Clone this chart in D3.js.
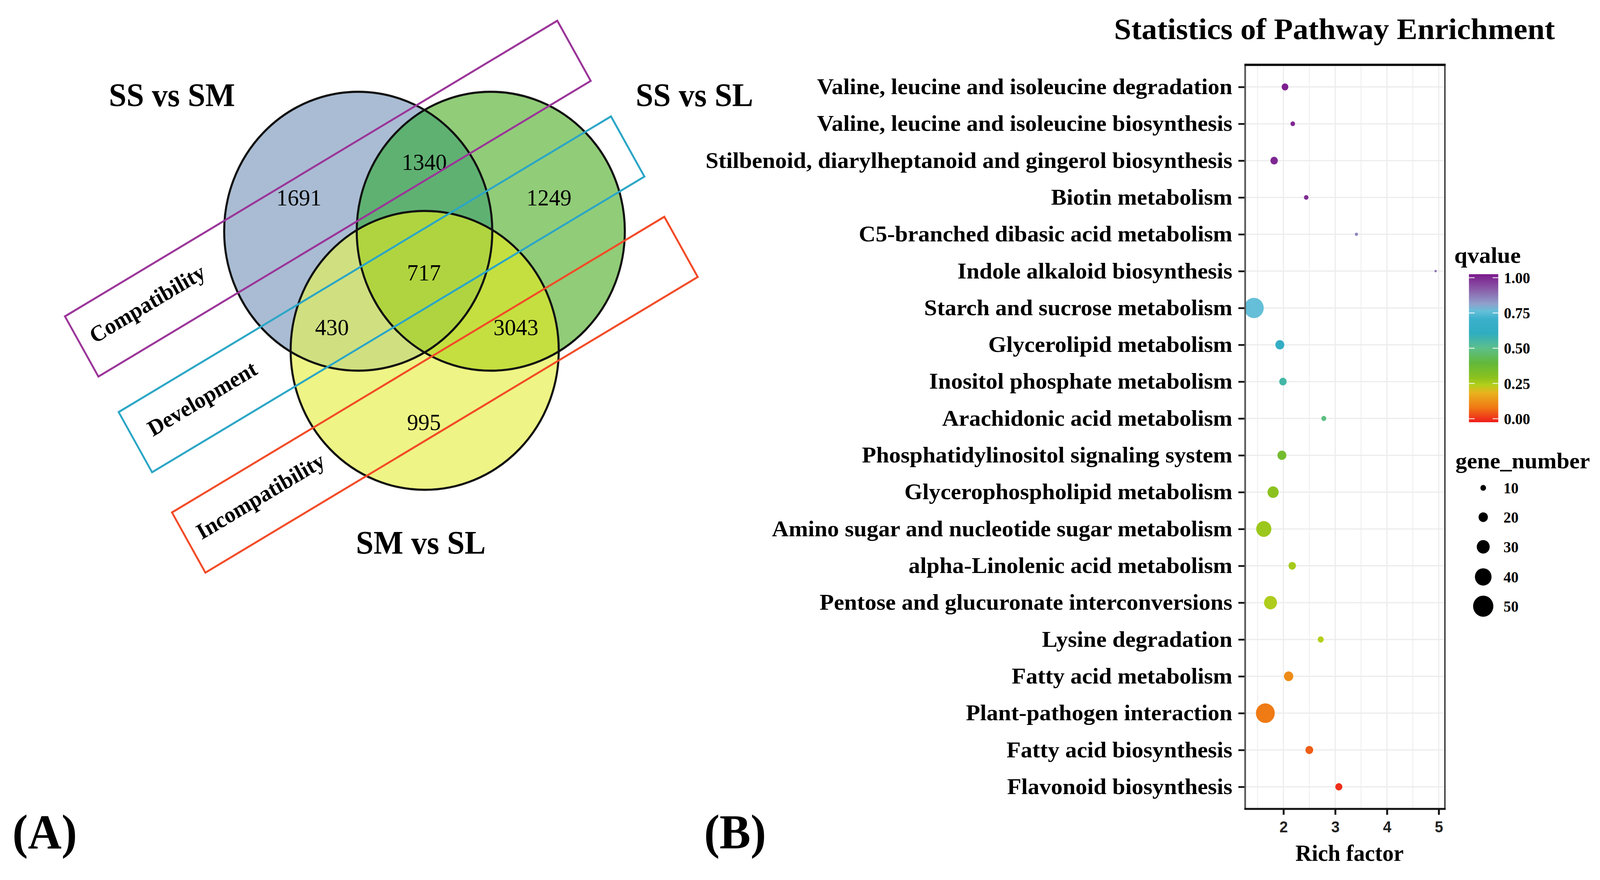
<!DOCTYPE html>
<html>
<head>
<meta charset="utf-8">
<script src="https://cdn.jsdelivr.net/npm/d3@7"></script>
<style>
  html, body { margin: 0; padding: 0; background: #fff; overflow: hidden; }
  #fig { display: block; width: 100vw; height: 100vh; }
</style>
</head>
<body>
<svg id="fig" viewBox="0 0 4261 2253" preserveAspectRatio="none"></svg>
<script>
// ---------- data: Venn (A) ----------
var setNames = ["SS vs SM", "SS vs SL", "SM vs SL"];
var regionKeys = ["A", "B", "AB", "ABC", "AC", "BC", "C"];
var regionCounts = [1691, 1249, 1340, 717, 430, 3043, 995];
var groupNames = ["Compatibility", "Development", "Incompatibility"];

// ---------- data: pathway enrichment (B) ----------
var pathways = [
    "Valine, leucine and isoleucine degradation",
    "Valine, leucine and isoleucine biosynthesis",
    "Stilbenoid, diarylheptanoid and gingerol biosynthesis",
    "Biotin metabolism",
    "C5-branched dibasic acid metabolism",
    "Indole alkaloid biosynthesis",
    "Starch and sucrose metabolism",
    "Glycerolipid metabolism",
    "Inositol phosphate metabolism",
    "Arachidonic acid metabolism",
    "Phosphatidylinositol signaling system",
    "Glycerophospholipid metabolism",
    "Amino sugar and nucleotide sugar metabolism",
    "alpha-Linolenic acid metabolism",
    "Pentose and glucuronate interconversions",
    "Lysine degradation",
    "Fatty acid metabolism",
    "Plant-pathogen interaction",
    "Fatty acid biosynthesis",
    "Flavonoid biosynthesis"
];
var richFactor = [2.03, 2.18, 1.82, 2.44, 3.41, 4.94, 1.43, 1.93, 1.99, 2.78,
                  1.97, 1.80, 1.62, 2.17, 1.75, 2.72, 2.10, 1.65, 2.50, 3.07];
var qValue = [0.99, 0.98, 0.98, 0.97, 0.84, 0.86, 0.75, 0.64, 0.55, 0.49,
              0.36, 0.30, 0.28, 0.27, 0.26, 0.25, 0.13, 0.10, 0.07, 0.02];
var geneNumber = [13, 7, 15, 7, 3, 1, 48, 19, 15, 8,
                  19, 25, 36, 15, 30, 11, 20, 46, 16, 14];

var xTicks = [2, 3, 4, 5];
var qBreaks = [0, 0.25, 0.5, 0.75, 1];
var sizeBreaks = [10, 20, 30, 40, 50];

// colour ramp of the qvalue bar
var qStops = [0, 0.1, 0.2, 0.25, 0.3, 0.4, 0.5, 0.6, 0.7, 0.75, 0.8, 0.9, 1];
var qColors = ["#ee1c1c", "#f07a14", "#e8b31e", "#b5cf1a", "#8cc21e", "#62b83a",
               "#5cbf8a", "#2fadc0", "#3cb0cc", "#65bfd8", "#8fa0cc", "#8a5aa8", "#7b1a8c"];

var serif = "'Liberation Serif','Times New Roman',serif";
var sans = "'Liberation Sans',Arial,sans-serif";
var svg = d3.select("#fig");
var defs = svg.append("defs");

// stretch a text horizontally so it spans the given width
function fitWidth(sel, x0, width) {
    var w = sel.node().getComputedTextLength();
    sel.attr("x", 0).attr("transform", "translate(" + x0 + ",0) scale(" + (width / w) + ",1)");
}

///////// Panel A: Venn /////////
var R = 357;
var circles = [
    {key: "A", cx: 954,  cy: 592, fill: "#a9bcd3"},
    {key: "B", cx: 1307, cy: 592, fill: "#91cc78"},
    {key: "C", cx: 1131, cy: 897, fill: "#eef485"}
];
var overlapFill = {AB: "#5fb172", AC: "#d0df80", BC: "#c5df40", ABC: "#b0d440"};
var regionPos = {
    A: [796, 506], B: [1462, 506], AB: [1130, 415], ABC: [1129, 698],
    AC: [884, 838], BC: [1374, 838], C: [1129, 1081]
};

circles.forEach(function (c) {
    defs.append("clipPath").attr("id", "clip" + c.key)
        .append("circle").attr("cx", c.cx).attr("cy", c.cy).attr("r", R);
});

var venn = svg.append("g");
venn.selectAll("circle.base").data(circles).enter().append("circle")
    .attr("class", "base")
    .attr("cx", function (d) { return d.cx; })
    .attr("cy", function (d) { return d.cy; })
    .attr("r", R)
    .style("fill", function (d) { return d.fill; });

function overlap(clips, c, fill) {
    var g = venn;
    clips.forEach(function (k) { g = g.append("g").attr("clip-path", "url(#clip" + k + ")"); });
    g.append("circle").attr("cx", c.cx).attr("cy", c.cy).attr("r", R).style("fill", fill);
}
overlap(["A"], circles[1], overlapFill.AB);
overlap(["A"], circles[2], overlapFill.AC);
overlap(["B"], circles[2], overlapFill.BC);
overlap(["A", "B"], circles[2], overlapFill.ABC);

venn.selectAll("circle.edge").data(circles).enter().append("circle")
    .attr("class", "edge")
    .attr("cx", function (d) { return d.cx; })
    .attr("cy", function (d) { return d.cy; })
    .attr("r", R)
    .style("fill", "none").style("stroke", "#111").style("stroke-width", 5.5);

// tilted group bands
var bandColors = ["#9b3599", "#2ba6c6", "#f24b27"];
var bandOrigins = [[173, 810], [316, 1055], [458, 1312]];
var bandLen = 1514, bandWid = 178;
var bands = svg.selectAll("g.band").data(groupNames).enter().append("g")
    .attr("class", "band")
    .attr("transform", function (d, i) {
        return "translate(" + bandOrigins[i][0] + "," + bandOrigins[i][1] + ") rotate(-30)";
    });
bands.append("rect")
    .attr("width", bandLen).attr("height", bandWid)
    .style("fill", "none")
    .style("stroke", function (d, i) { return bandColors[i]; })
    .style("stroke-width", 5);
bands.append("text")
    .attr("x", function (d, i) { return [206, 210, 225][i]; })
    .attr("y", bandWid / 2 - 8)
    .attr("dy", "0.34em")
    .attr("text-anchor", "middle")
    .style("font-family", serif).style("font-weight", "bold").style("font-size", "58px")
    .text(function (d) { return d; });

venn.selectAll("text.count").data(regionKeys).enter().append("text")
    .attr("class", "count")
    .attr("x", function (d) { return regionPos[d][0]; })
    .attr("y", function (d) { return regionPos[d][1]; })
    .attr("dy", "0.34em")
    .attr("text-anchor", "middle")
    .style("font-family", serif).style("font-size", "60px")
    .text(function (d, i) { return regionCounts[i]; });

var setLabelPos = [[290, 272], [1693, 272], [948, 1418]];
svg.selectAll("text.setName").data(setNames).enter().append("text")
    .attr("class", "setName")
    .attr("x", function (d, i) { return setLabelPos[i][0]; })
    .attr("y", function (d, i) { return setLabelPos[i][1]; })
    .style("font-family", serif).style("font-weight", "bold").style("font-size", "84px")
    .text(function (d) { return d; });

///////// Panel B: bubble chart /////////
var plot = {left: 3316, right: 3848, top: 166, bottom: 2071};

var x = d3.scaleLinear().domain([1.26, 5.12]).range([plot.left, plot.right]);
var y = d3.scalePoint().domain(pathways).range([plot.top, plot.bottom]).padding(0.6);
var color = d3.scaleLinear().domain(qStops).range(qColors).clamp(true);
var rScale = d3.scaleLinear().domain([10, 50]).range([7.5, 27]);

var chart = svg.append("g");

// grid
chart.selectAll("line.vgrid").data(d3.range(1.5, 5.01, 0.5)).enter().append("line")
    .attr("x1", function (d) { return x(d); }).attr("x2", function (d) { return x(d); })
    .attr("y1", plot.top).attr("y2", plot.bottom)
    .style("stroke", "#ececec")
    .style("stroke-width", function (d) { return d % 1 === 0 ? 3 : 2; });
chart.selectAll("line.hgrid").data(pathways).enter().append("line")
    .attr("x1", plot.left).attr("x2", plot.right)
    .attr("y1", function (d) { return y(d); }).attr("y2", function (d) { return y(d); })
    .style("stroke", "#ececec").style("stroke-width", 3);

// dots
chart.selectAll("circle.dot").data(pathways).enter().append("circle")
    .attr("class", "dot")
    .attr("cx", function (d, i) { return x(richFactor[i]); })
    .attr("cy", function (d) { return y(d); })
    .attr("r", function (d, i) { return rScale(geneNumber[i]); })
    .style("fill", function (d, i) { return color(qValue[i]); });

// axes
var yAxis = chart.append("g")
    .attr("transform", "translate(" + plot.left + ",0)")
    .call(d3.axisLeft(y).tickSize(18).tickPadding(16));
yAxis.select(".domain").remove();
yAxis.selectAll(".tick line").style("stroke", "#111").style("stroke-width", 4.5);
yAxis.selectAll("text")
    .style("font-family", serif).style("font-weight", "bold").style("font-size", "56px")
    .style("fill", "#000");

// squeeze the labels so the widest one fits as in the figure
var widest = 0;
yAxis.selectAll("text").each(function () { widest = Math.max(widest, this.getComputedTextLength()); });
var kx = 1403 / widest;
yAxis.selectAll("text").each(function () {
    var t = d3.select(this);
    var tx = +t.attr("x");
    t.attr("x", 0).attr("transform", "translate(" + tx + ",0) scale(" + kx + ",1)");
});

var xAxis = chart.append("g")
    .attr("transform", "translate(0," + plot.bottom + ")")
    .call(d3.axisBottom(x).tickValues(xTicks).tickSize(15).tickPadding(17).tickFormat(d3.format("d")));
xAxis.select(".domain").remove();
xAxis.selectAll(".tick line").style("stroke", "#111").style("stroke-width", 5);
xAxis.selectAll("text")
    .style("font-family", sans).style("font-weight", "bold").style("font-size", "40px")
    .style("fill", "#222");

// panel border
chart.append("line").attr("x1", plot.left).attr("x2", plot.left)
    .attr("y1", plot.top).attr("y2", plot.bottom + 2)
    .style("stroke", "#555").style("stroke-width", 4.5);
chart.append("line").attr("x1", plot.left - 2).attr("x2", plot.right + 2)
    .attr("y1", plot.bottom).attr("y2", plot.bottom)
    .style("stroke", "#111").style("stroke-width", 5);
chart.append("line").attr("x1", plot.left - 2).attr("x2", plot.right + 2)
    .attr("y1", plot.top).attr("y2", plot.top)
    .style("stroke", "#111").style("stroke-width", 6);
chart.append("line").attr("x1", plot.right).attr("x2", plot.right)
    .attr("y1", plot.top).attr("y2", plot.bottom)
    .style("stroke", "#111").style("stroke-width", 3);

// titles
var title = svg.append("text")
    .attr("y", 100)
    .style("font-family", serif).style("font-weight", "bold").style("font-size", "76px")
    .text("Statistics of Pathway Enrichment");
fitWidth(title, 2967, 1174);

svg.append("text")
    .attr("x", 3594).attr("y", 2204).attr("text-anchor", "middle")
    .style("font-family", serif).style("font-weight", "bold").style("font-size", "60px")
    .text("Rich factor");

// qvalue legend
var bar = {x: 3912, w: 78, top: 702, bottom: 1081};
var qy = d3.scaleLinear().domain([0, 1]).range([1072, 711]);
var grad = defs.append("linearGradient").attr("id", "qgrad")
    .attr("x1", 0).attr("x2", 0).attr("y1", 1).attr("y2", 0);
grad.selectAll("stop").data(qStops).enter().append("stop")
    .attr("offset", function (d) { return d; })
    .attr("stop-color", function (d, i) { return qColors[i]; });

var legend = svg.append("g");
var qTitle = legend.append("text").attr("y", 673)
    .style("font-family", serif).style("font-weight", "bold").style("font-size", "58px")
    .text("qvalue");
fitWidth(qTitle, 3873, 177);
legend.append("rect")
    .attr("x", bar.x).attr("y", bar.top).attr("width", bar.w).attr("height", bar.bottom - bar.top)
    .style("fill", "url(#qgrad)");
legend.selectAll("line.qtick").data(qBreaks.concat(qBreaks)).enter().append("line")
    .attr("x1", function (d, i) { return i < qBreaks.length ? bar.x : bar.x + bar.w - 15; })
    .attr("x2", function (d, i) { return i < qBreaks.length ? bar.x + 15 : bar.x + bar.w; })
    .attr("y1", function (d) { return qy(d); }).attr("y2", function (d) { return qy(d); })
    .style("stroke", "#fff").style("stroke-width", 2.5).style("opacity", 0.8);
legend.selectAll("text.qlab").data(qBreaks).enter().append("text")
    .attr("x", 4005).attr("y", function (d) { return qy(d); }).attr("dy", "0.35em")
    .style("font-family", serif).style("font-weight", "bold").style("font-size", "40px")
    .text(function (d) { return d3.format(".2f")(d); });

// gene_number legend
var sizeY = [1249, 1324, 1400, 1477, 1552];
var geneTitle = legend.append("text").attr("y", 1199)
    .style("font-family", serif).style("font-weight", "bold").style("font-size", "58px")
    .text("gene_number");
fitWidth(geneTitle, 3876, 358);
legend.selectAll("circle.key").data(sizeBreaks).enter().append("circle")
    .attr("cx", 3950).attr("cy", function (d, i) { return sizeY[i]; })
    .attr("r", function (d) { return rScale(d); })
    .style("fill", "#000");
legend.selectAll("text.slab").data(sizeBreaks).enter().append("text")
    .attr("x", 4004).attr("y", function (d, i) { return sizeY[i]; }).attr("dy", "0.35em")
    .style("font-family", serif).style("font-weight", "bold").style("font-size", "40px")
    .text(function (d) { return d; });

// panel letters
svg.selectAll("text.panel").data(["(A)", "(B)"]).enter().append("text")
    .attr("x", function (d, i) { return [33, 1875][i]; })
    .attr("y", 2172)
    .style("font-family", serif).style("font-weight", "bold").style("font-size", "124px")
    .text(function (d) { return d; });
</script>
</body>
</html>
